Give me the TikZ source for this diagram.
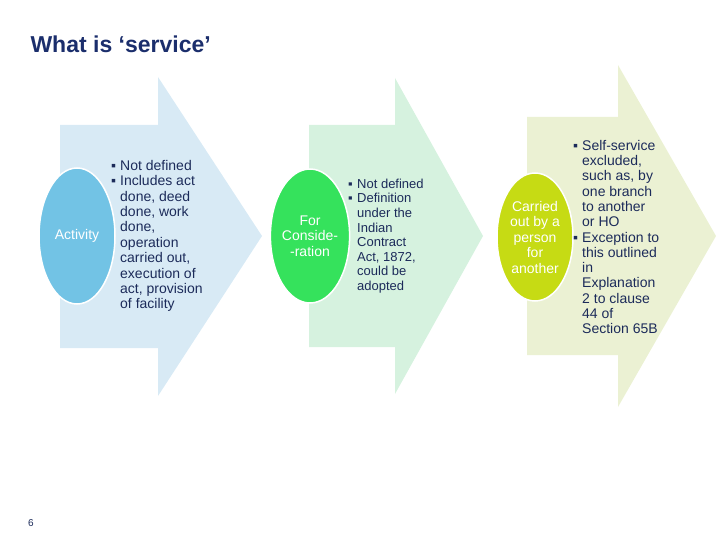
\documentclass[tikz,border=0pt]{standalone}
\usepackage{fontspec}
\setmainfont{Liberation Sans}
\usepackage{xcolor}
\usetikzlibrary{positioning, calc, shapes.geometric}
\definecolor{cNavy}{HTML}{1B2E6C}
\definecolor{cText}{HTML}{1C2B5A}
\definecolor{cBlueA}{HTML}{D8EAF5}
\definecolor{cBlueC}{HTML}{72C3E5}
\definecolor{cGreenA}{HTML}{D6F2DF}
\definecolor{cGreenC}{HTML}{35E25C}
\definecolor{cLimeA}{HTML}{EBF1D3}
\definecolor{cLimeC}{HTML}{C6DB14}
\newcommand{\bul}{\makebox[9pt][l]{▪}}
\newcommand{\ind}{\hspace*{9pt}}

\begin{document}
\begin{tikzpicture}[
    x=1pt, y=-1pt,
    oval/.style={ellipse, fill=#1, draw=white, line width=1.5pt,
                 inner sep=0pt, text=white, align=center},
    pts/.style={anchor=west, align=left, text=cText, inner sep=0pt},
    every node/.style={font=\fontsize{14}{15.5}\selectfont},
  ]
  \useasboundingbox (0,0) rectangle (720,540);

  % Arrows
  \fill[cBlueA]  (60,125) -- (158,125) -- (158,77) -- (262,236)
                 -- (158,396) -- (158,348) -- (60,348) -- cycle;
  \fill[cGreenA] (309,125) -- (395,125) -- (395,78) -- (483,236)
                 -- (395,394) -- (395,347) -- (309,347) -- cycle;
  \fill[cLimeA]  (527,117) -- (618,117) -- (618,65) -- (716,236)
                 -- (618,407) -- (618,355) -- (527,355) -- cycle;

  % Title and page number
  \node[anchor=west, text=cNavy, font=\fontsize{23}{27}\selectfont\bfseries]
    (title) at (27,44) {What is ‘service’};
  \node[text=cText, font=\fontsize{10}{12}\selectfont] (pg) at (31,523) {6};

  % Ovals
  \node[oval=cBlueC, minimum width=76pt, minimum height=136pt]
    (act) at (77,236) {Activity};
  \node[oval=cGreenC, minimum width=78pt, minimum height=134pt]
    (cons) at (310,236) {For\\Conside-\\-ration};
  \node[oval=cLimeC, minimum width=76pt, minimum height=128pt]
    (pers) at (535,237) {Carried\\out by a\\person\\for\\another};

  % Points
  \node[pts, font=\fontsize{14}{15.4}\selectfont] (actpts) at (111,236)
    {\bul Not defined\\ \bul Includes act\\ \ind done, deed\\ \ind done, work\\
     \ind done,\\ \ind operation\\ \ind carried out,\\ \ind execution of\\
     \ind act, provision\\ \ind of facility};
  \node[pts, font=\fontsize{13}{14.6}\selectfont] (conspts) at (348,236)
    {\bul Not defined\\ \bul Definition\\ \ind under the\\ \ind Indian\\
     \ind Contract\\ \ind Act, 1872,\\ \ind could be\\ \ind adopted};
  \node[pts, font=\fontsize{14}{15.3}\selectfont] (perspts) at (573,237)
    {\bul Self-service\\ \ind excluded,\\ \ind such as, by\\ \ind one branch\\
     \ind to another\\ \ind or HO\\ \bul Exception to\\ \ind this outlined\\
     \ind in\\ \ind Explanation\\ \ind 2 to clause\\ \ind 44 of\\ \ind Section 65B};
\end{tikzpicture}
\end{document}
